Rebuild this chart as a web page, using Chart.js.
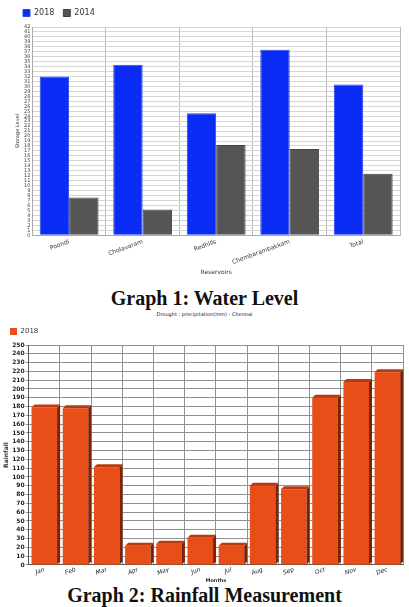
<!DOCTYPE html>
<html>
<head>
<meta charset="utf-8">
<script src="https://cdn.jsdelivr.net/npm/chart.js@4/dist/chart.umd.min.js"></script>
<style>
  body { margin: 0; background: #fff; width: 409px; height: 607px; overflow: hidden; position: relative; }
  .box { position: absolute; left: 0; width: 409px; }
  .title { position: absolute; left: 0; width: 409px; text-align: center; font-family: "Liberation Serif", serif; font-weight: bold; font-size: 20px; color: #111; }
  .sub { position: absolute; left: 0; width: 409px; text-align: center; font-family: "DejaVu Sans", sans-serif; font-size: 5px; color: #222; }
</style>
</head>
<body>
<div class="box" style="top:0;height:278px"><canvas id="level"></canvas></div>
<div class="title" style="top:287px">Graph 1: Water Level</div>
<div class="sub" style="top:311px">Drought : precipitation(mm) - Chennai</div>
<div class="box" style="top:320px;height:264px"><canvas id="rain"></canvas></div>
<div class="title" style="top:584px">Graph 2: Rainfall Measurement</div>
<script>
// water level data
const reservoirs = ['Poondi', 'Cholavaram', 'Redhills', 'Chembarambakkam', 'Total'];
const level2018 = [32, 34.4, 24.6, 37.4, 30.4];
const level2014 = [7.6, 5.2, 18.2, 17.4, 12.4];

// rainfall data
const months = ['Jan', 'Feb', 'Mar', 'Apr', 'May', 'Jun', 'Jul', 'Aug', 'Sep', 'Oct', 'Nov', 'Dec'];
const rain2018 = [179, 178, 111, 22, 24, 31, 22, 90, 86, 190, 208, 219];

const sans = 'DejaVu Sans';

new Chart(document.getElementById('level'), {
    type: 'bar',
    data: {
        labels: reservoirs,
        datasets: [
            { label: '2018', data: level2018, backgroundColor: '#0a2cf5', borderColor: '#2a44e8', borderWidth: 1, barPercentage: 1, categoryPercentage: 0.8 },
            { label: '2014', data: level2014, backgroundColor: '#555555', borderColor: '#444', borderWidth: 1, barPercentage: 1, categoryPercentage: 0.8 }
        ]
    },
    options: {
        responsive: true, maintainAspectRatio: false, animation: false,
        layout: { padding: { left: 14, right: 9, top: 0, bottom: 2 } },
        plugins: {
            legend: { align: 'start', labels: { boxWidth: 7, boxHeight: 7, font: { family: sans, size: 8 }, color: '#333', padding: 9 } },
            tooltip: { enabled: false }
        },
        scales: {
            x: {
                grid: { color: '#b8bcc0', offset: true, drawTicks: false },
                border: { color: '#aaa' },
                ticks: { font: { family: sans, size: 6 }, color: '#333', minRotation: 20, maxRotation: 20, padding: 3 },
                title: { display: true, text: 'Reservoirs', font: { family: sans, size: 6 }, color: '#333', padding: { top: 0, bottom: 0 } }
            },
            y: {
                min: 0, max: 42,
                grid: { color: '#d4d6d8', drawTicks: false },
                border: { color: '#aaa' },
                ticks: { stepSize: 1, autoSkip: false, font: { family: sans, size: 5 }, color: '#444', padding: 2 },
                title: { display: true, text: 'Storage Level', font: { family: sans, size: 5 }, color: '#333', padding: 1 }
            }
        }
    }
});

// 3D look for the rainfall bars
const bar3d = {
    id: 'bar3d',
    afterDatasetsDraw(chart) {
        const ctx = chart.ctx;
        const d = 3;
        chart.getDatasetMeta(0).data.forEach(b => {
            const l = b.x - b.width / 2, r = b.x + b.width / 2;
            ctx.save();
            ctx.fillStyle = '#7e2206';
            ctx.beginPath();
            ctx.moveTo(r, b.y);
            ctx.lineTo(r + d, b.y - d);
            ctx.lineTo(r + d, b.base - d);
            ctx.lineTo(r, b.base);
            ctx.closePath();
            ctx.fill();
            ctx.fillStyle = '#b93a0e';
            ctx.beginPath();
            ctx.moveTo(l, b.y);
            ctx.lineTo(l + d, b.y - d);
            ctx.lineTo(r + d, b.y - d);
            ctx.lineTo(r, b.y);
            ctx.closePath();
            ctx.fill();
            ctx.restore();
        });
    }
};

new Chart(document.getElementById('rain'), {
    type: 'bar',
    data: {
        labels: months,
        datasets: [
            { label: '2018', data: rain2018, backgroundColor: '#e84e17', barPercentage: 0.82, categoryPercentage: 1 }
        ]
    },
    options: {
        responsive: true, maintainAspectRatio: false, animation: false,
        layout: { padding: { left: 2, right: 6, top: 0, bottom: 0 } },
        plugins: {
            legend: { align: 'start', labels: { boxWidth: 7, boxHeight: 7, font: { family: sans, size: 7 }, color: '#333', padding: 8 } },
            tooltip: { enabled: false }
        },
        scales: {
            x: {
                grid: { color: '#8e9296', offset: true, drawTicks: false },
                border: { color: '#555' },
                ticks: { font: { family: sans, size: 6, style: 'italic' }, color: '#222', minRotation: 20, maxRotation: 20, padding: 1 },
                title: { display: true, text: 'Months', font: { family: sans, size: 5, weight: 'bold' }, color: '#333', padding: { top: 0, bottom: 0 } }
            },
            y: {
                min: 0, max: 250,
                grid: { color: '#8e9296', drawTicks: true, tickLength: 3 },
                border: { color: '#555' },
                ticks: { stepSize: 10, autoSkip: false, font: { family: sans, size: 6, weight: 'bold' }, color: '#222', padding: 1 },
                title: { display: true, text: 'Rainfall', font: { family: sans, size: 6, weight: 'bold' }, color: '#333', padding: 1 }
            }
        }
    },
    plugins: [bar3d]
});
</script>
</body>
</html>
